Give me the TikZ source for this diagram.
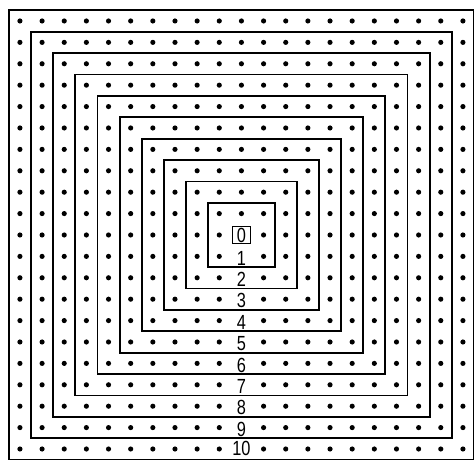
\documentclass[tikz,border=0pt]{standalone}
\usepackage{fontspec}
\usepackage{graphicx}
\setmainfont{Liberation Sans}

\begin{document}
\begin{tikzpicture}[
  x=0.666cm, y=0.6435cm,
  ring/.style={line width=1.6pt},
  ringlabel/.style={inner sep=0pt, font=\fontsize{17.5}{17.5}\selectfont},
  zerobox/.style={ringlabel, draw, line width=1.2pt,
                  minimum width=0.54cm, minimum height=0.5cm},
]
\useasboundingbox (-10.9,-10.5) rectangle (10.5,10.98);

% ── Grid of dots (label column left free) ──
\foreach \i in {-10,...,10}
  \foreach \j in {-10,...,10} {
    \ifnum\i=0
      \ifnum\j>0 \fill (\i,\j) circle (2.2pt); \fi
    \else
      \fill (\i,\j) circle (2.2pt);
    \fi
  }

% ── Concentric squares ──
\foreach \k in {1,...,10}
  \draw[ring] ({-\k-0.5},{-\k-0.5}) rectangle ({\k+0.5},{\k+0.5});

% ── Labels ──
\node[zerobox] (l0) at (0,0) {\scalebox{0.8}[1]{0}};
\foreach \k in {1,...,9}
  \node[ringlabel] (l\k) at (0,{-\k-0.08}) {\scalebox{0.8}[1]{\k}};
\node[ringlabel] (l10) at (0,-9.98) {\scalebox{0.8}[1]{10}};

\end{tikzpicture}
\end{document}
